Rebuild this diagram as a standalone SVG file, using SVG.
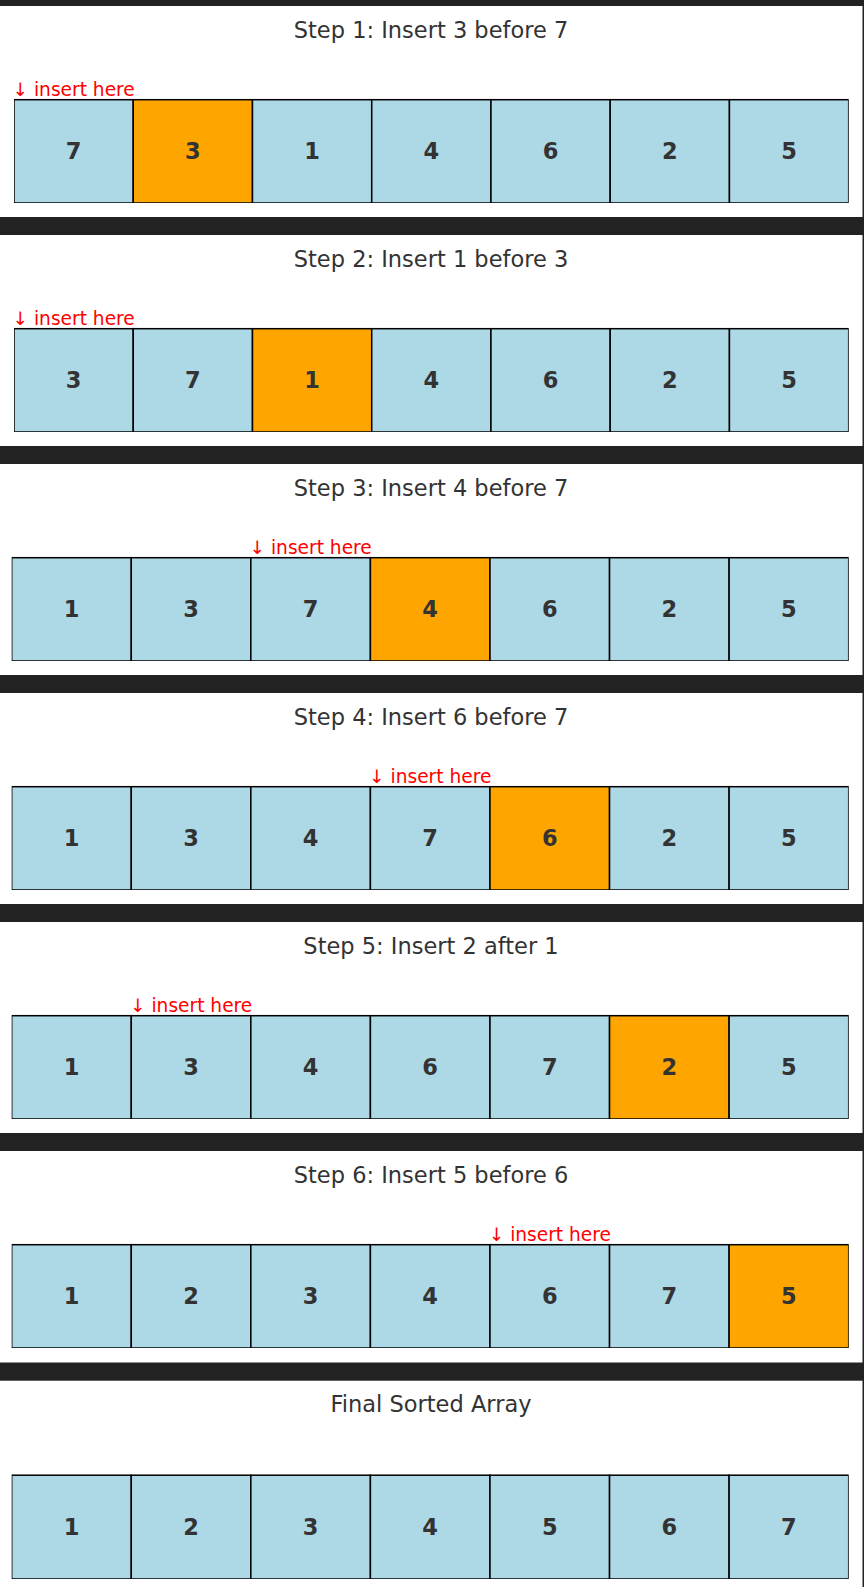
<svg xmlns="http://www.w3.org/2000/svg" width="864" height="1587" viewBox="0 0 864 1587">
<style>
.bg{fill:#222222}
.panel{fill:#ffffff}
.title{font-family:"DejaVu Sans",sans-serif;font-size:22.5px;fill:#333333;text-anchor:middle}
.lbl{font-family:"DejaVu Sans",sans-serif;font-size:18.6px;fill:#ff0000;text-anchor:middle}
.num{font-family:"DejaVu Sans",sans-serif;font-size:22.5px;font-weight:bold;fill:#333333;text-anchor:middle}
.c{fill:#add8e6;stroke:#000000;stroke-width:1.5}
.h{fill:#ffa500;stroke:#000000;stroke-width:1.5}
</style>
<rect class="bg" x="0" y="0" width="864" height="1587"/>

<g id="step1">
<rect class="panel" x="0" y="6" width="862.5" height="211"/>
<text class="title" x="431" y="37.5">Step 1: Insert 3 before 7</text>
<text class="lbl" x="73.6" y="95.5">↓ insert here</text>
<svg x="14" y="97" width="834.7" height="106" viewBox="14 97 834.7 106" overflow="hidden">
<rect class="c" x="14" y="99.7" width="119.24" height="103.3"/>
<rect class="h" x="133.24" y="99.7" width="119.24" height="103.3"/>
<rect class="c" x="252.48" y="99.7" width="119.24" height="103.3"/>
<rect class="c" x="371.72" y="99.7" width="119.24" height="103.3"/>
<rect class="c" x="490.96" y="99.7" width="119.24" height="103.3"/>
<rect class="c" x="610.2" y="99.7" width="119.24" height="103.3"/>
<rect class="c" x="729.44" y="99.7" width="119.24" height="103.3"/>
</svg>
<text class="num" x="73.6" y="159.3">7</text>
<text class="num" x="192.9" y="159.3">3</text>
<text class="num" x="312.1" y="159.3">1</text>
<text class="num" x="431.3" y="159.3">4</text>
<text class="num" x="550.6" y="159.3">6</text>
<text class="num" x="669.8" y="159.3">2</text>
<text class="num" x="789.1" y="159.3">5</text>
</g>

<g id="step2">
<rect class="panel" x="0" y="235" width="862.5" height="211"/>
<text class="title" x="431" y="266.5">Step 2: Insert 1 before 3</text>
<text class="lbl" x="73.6" y="324.5">↓ insert here</text>
<svg x="14" y="326" width="834.7" height="106" viewBox="14 326 834.7 106" overflow="hidden">
<rect class="c" x="14" y="328.7" width="119.24" height="103.3"/>
<rect class="c" x="133.24" y="328.7" width="119.24" height="103.3"/>
<rect class="h" x="252.48" y="328.7" width="119.24" height="103.3"/>
<rect class="c" x="371.72" y="328.7" width="119.24" height="103.3"/>
<rect class="c" x="490.96" y="328.7" width="119.24" height="103.3"/>
<rect class="c" x="610.2" y="328.7" width="119.24" height="103.3"/>
<rect class="c" x="729.44" y="328.7" width="119.24" height="103.3"/>
</svg>
<text class="num" x="73.6" y="388.3">3</text>
<text class="num" x="192.9" y="388.3">7</text>
<text class="num" x="312.1" y="388.3">1</text>
<text class="num" x="431.3" y="388.3">4</text>
<text class="num" x="550.6" y="388.3">6</text>
<text class="num" x="669.8" y="388.3">2</text>
<text class="num" x="789.1" y="388.3">5</text>
</g>

<g id="step3">
<rect class="panel" x="0" y="464" width="862.5" height="211"/>
<text class="title" x="431" y="495.5">Step 3: Insert 4 before 7</text>
<text class="lbl" x="310.6" y="553.5">↓ insert here</text>
<svg x="11.7" y="555" width="837" height="106" viewBox="11.7 555 837 106" overflow="hidden">
<rect class="c" x="11.7" y="557.7" width="119.57" height="103.3"/>
<rect class="c" x="131.27" y="557.7" width="119.57" height="103.3"/>
<rect class="c" x="250.84" y="557.7" width="119.57" height="103.3"/>
<rect class="h" x="370.41" y="557.7" width="119.57" height="103.3"/>
<rect class="c" x="489.98" y="557.7" width="119.57" height="103.3"/>
<rect class="c" x="609.55" y="557.7" width="119.57" height="103.3"/>
<rect class="c" x="729.12" y="557.7" width="119.57" height="103.3"/>
</svg>
<text class="num" x="71.5" y="617.3">1</text>
<text class="num" x="191.1" y="617.3">3</text>
<text class="num" x="310.6" y="617.3">7</text>
<text class="num" x="430.2" y="617.3">4</text>
<text class="num" x="549.8" y="617.3">6</text>
<text class="num" x="669.3" y="617.3">2</text>
<text class="num" x="788.9" y="617.3">5</text>
</g>

<g id="step4">
<rect class="panel" x="0" y="693" width="862.5" height="211"/>
<text class="title" x="431" y="724.5">Step 4: Insert 6 before 7</text>
<text class="lbl" x="430.2" y="782.5">↓ insert here</text>
<svg x="11.7" y="784" width="837" height="106" viewBox="11.7 784 837 106" overflow="hidden">
<rect class="c" x="11.7" y="786.7" width="119.57" height="103.3"/>
<rect class="c" x="131.27" y="786.7" width="119.57" height="103.3"/>
<rect class="c" x="250.84" y="786.7" width="119.57" height="103.3"/>
<rect class="c" x="370.41" y="786.7" width="119.57" height="103.3"/>
<rect class="h" x="489.98" y="786.7" width="119.57" height="103.3"/>
<rect class="c" x="609.55" y="786.7" width="119.57" height="103.3"/>
<rect class="c" x="729.12" y="786.7" width="119.57" height="103.3"/>
</svg>
<text class="num" x="71.5" y="846.3">1</text>
<text class="num" x="191.1" y="846.3">3</text>
<text class="num" x="310.6" y="846.3">4</text>
<text class="num" x="430.2" y="846.3">7</text>
<text class="num" x="549.8" y="846.3">6</text>
<text class="num" x="669.3" y="846.3">2</text>
<text class="num" x="788.9" y="846.3">5</text>
</g>

<g id="step5">
<rect class="panel" x="0" y="922" width="862.5" height="211"/>
<text class="title" x="431" y="953.5">Step 5: Insert 2 after 1</text>
<text class="lbl" x="191.1" y="1011.5">↓ insert here</text>
<svg x="11.7" y="1013" width="837" height="106" viewBox="11.7 1013 837 106" overflow="hidden">
<rect class="c" x="11.7" y="1015.7" width="119.57" height="103.3"/>
<rect class="c" x="131.27" y="1015.7" width="119.57" height="103.3"/>
<rect class="c" x="250.84" y="1015.7" width="119.57" height="103.3"/>
<rect class="c" x="370.41" y="1015.7" width="119.57" height="103.3"/>
<rect class="c" x="489.98" y="1015.7" width="119.57" height="103.3"/>
<rect class="h" x="609.55" y="1015.7" width="119.57" height="103.3"/>
<rect class="c" x="729.12" y="1015.7" width="119.57" height="103.3"/>
</svg>
<text class="num" x="71.5" y="1075.3">1</text>
<text class="num" x="191.1" y="1075.3">3</text>
<text class="num" x="310.6" y="1075.3">4</text>
<text class="num" x="430.2" y="1075.3">6</text>
<text class="num" x="549.8" y="1075.3">7</text>
<text class="num" x="669.3" y="1075.3">2</text>
<text class="num" x="788.9" y="1075.3">5</text>
</g>

<g id="step6">
<rect class="panel" x="0" y="1151" width="862.5" height="211.5"/>
<text class="title" x="431" y="1182.5">Step 6: Insert 5 before 6</text>
<text class="lbl" x="549.8" y="1240.5">↓ insert here</text>
<svg x="11.7" y="1242" width="837" height="106" viewBox="11.7 1242 837 106" overflow="hidden">
<rect class="c" x="11.7" y="1244.7" width="119.57" height="103.3"/>
<rect class="c" x="131.27" y="1244.7" width="119.57" height="103.3"/>
<rect class="c" x="250.84" y="1244.7" width="119.57" height="103.3"/>
<rect class="c" x="370.41" y="1244.7" width="119.57" height="103.3"/>
<rect class="c" x="489.98" y="1244.7" width="119.57" height="103.3"/>
<rect class="c" x="609.55" y="1244.7" width="119.57" height="103.3"/>
<rect class="h" x="729.12" y="1244.7" width="119.57" height="103.3"/>
</svg>
<text class="num" x="71.5" y="1304.3">1</text>
<text class="num" x="191.1" y="1304.3">2</text>
<text class="num" x="310.6" y="1304.3">3</text>
<text class="num" x="430.2" y="1304.3">4</text>
<text class="num" x="549.8" y="1304.3">6</text>
<text class="num" x="669.3" y="1304.3">7</text>
<text class="num" x="788.9" y="1304.3">5</text>
</g>

<g id="final">
<rect class="panel" x="0" y="1380.7" width="862.5" height="206.3"/>
<text class="title" x="431" y="1412.2">Final Sorted Array</text>
<svg x="11.7" y="1472.5" width="837" height="106.5" viewBox="11.7 1472.5 837 106.5" overflow="hidden">
<rect class="c" x="11.7" y="1475.2" width="119.57" height="103.8"/>
<rect class="c" x="131.27" y="1475.2" width="119.57" height="103.8"/>
<rect class="c" x="250.84" y="1475.2" width="119.57" height="103.8"/>
<rect class="c" x="370.41" y="1475.2" width="119.57" height="103.8"/>
<rect class="c" x="489.98" y="1475.2" width="119.57" height="103.8"/>
<rect class="c" x="609.55" y="1475.2" width="119.57" height="103.8"/>
<rect class="c" x="729.12" y="1475.2" width="119.57" height="103.8"/>
</svg>
<text class="num" x="71.5" y="1535">1</text>
<text class="num" x="191.1" y="1535">2</text>
<text class="num" x="310.6" y="1535">3</text>
<text class="num" x="430.2" y="1535">4</text>
<text class="num" x="549.8" y="1535">5</text>
<text class="num" x="669.3" y="1535">6</text>
<text class="num" x="788.9" y="1535">7</text>
</g>
</svg>
